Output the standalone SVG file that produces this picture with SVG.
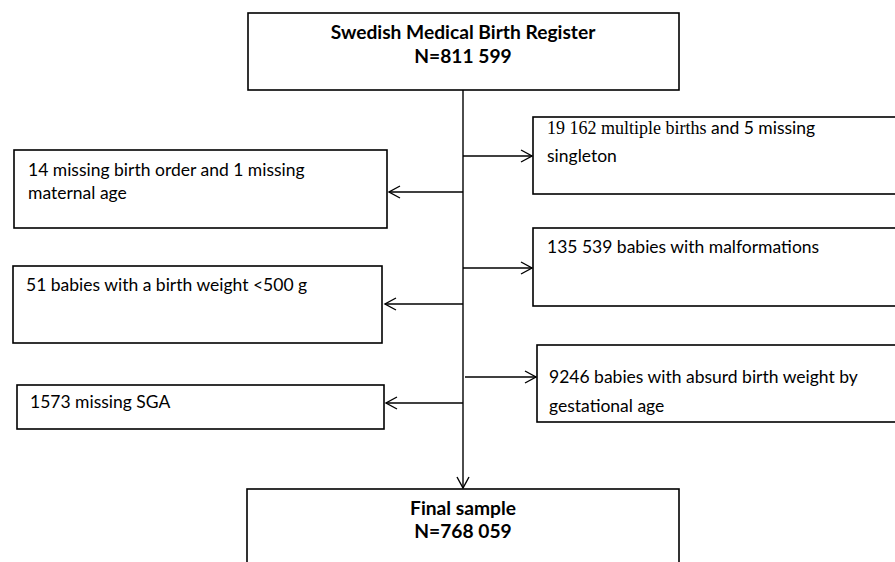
<svg xmlns="http://www.w3.org/2000/svg" width="895" height="562" viewBox="0 0 895 562">
<style>
.box{fill:#fff;stroke:#000;stroke-width:1.6}
.t{font-family:Lato,"Liberation Sans",sans-serif;font-size:17.5px;fill:#000}
.b{font-family:Lato,"Liberation Sans",sans-serif;font-size:19.2px;font-weight:bold;fill:#000;text-anchor:middle}
.s{font-family:"Liberation Serif",serif;font-size:18px}
.ln{stroke:#000;stroke-width:1.4;fill:none}
</style>
<defs>
<marker id="ah" markerWidth="14" markerHeight="14" refX="12" refY="7" orient="auto" markerUnits="userSpaceOnUse">
<polyline points="1,1 12,7 1,13" fill="none" stroke="#000" stroke-width="1.4"/>
</marker>
</defs>
<rect width="895" height="562" fill="#fff"/>
<g id="connectors">
<line class="ln" x1="463" y1="90" x2="463" y2="488" marker-end="url(#ah)"/>
<line class="ln" x1="463" y1="156" x2="532" y2="156" marker-end="url(#ah)"/>
<line class="ln" x1="463" y1="192" x2="389" y2="192" marker-end="url(#ah)"/>
<line class="ln" x1="463" y1="268" x2="532" y2="268" marker-end="url(#ah)"/>
<line class="ln" x1="463" y1="304" x2="385" y2="304" marker-end="url(#ah)"/>
<line class="ln" x1="465" y1="377" x2="536" y2="377" marker-end="url(#ah)"/>
<line class="ln" x1="463" y1="403" x2="386" y2="403" marker-end="url(#ah)"/>
</g>
<g id="register">
<rect class="box" x="248" y="13" width="431" height="77"/>
<text class="b" x="463" y="39">Swedish Medical Birth Register</text>
<text class="b" x="463" y="63">N=811 599</text>
</g>
<g id="excl-multiple">
<rect class="box" x="533" y="117" width="370" height="77"/>
<text class="t" x="547" y="134"><tspan class="s">19 162 multiple births</tspan> and 5 missing</text>
<text class="t" x="547" y="162">singleton</text>
</g>
<g id="excl-missing-order">
<rect class="box" x="14" y="150" width="373" height="78"/>
<text class="t" x="28" y="176">14 missing birth order and 1 missing</text>
<text class="t" x="28" y="199">maternal age</text>
</g>
<g id="excl-malformations">
<rect class="box" x="533" y="228" width="370" height="78"/>
<text class="t" x="547" y="253">135 539 babies with malformations</text>
</g>
<g id="excl-weight500">
<rect class="box" x="13" y="266" width="369" height="77"/>
<text class="t" x="26" y="291">51 babies with a birth weight &lt;500 g</text>
</g>
<g id="excl-absurd">
<rect class="box" x="537" y="345" width="366" height="77"/>
<text class="t" x="549" y="383">9246 babies with absurd birth weight by</text>
<text class="t" x="549" y="412">gestational age</text>
</g>
<g id="excl-sga">
<rect class="box" x="17" y="385" width="367" height="44"/>
<text class="t" x="30" y="408">1573 missing SGA</text>
</g>
<g id="final">
<rect class="box" x="247" y="489" width="432" height="90"/>
<text class="b" x="463" y="515">Final sample</text>
<text class="b" x="463" y="538">N=768 059</text>
</g>
</svg>
